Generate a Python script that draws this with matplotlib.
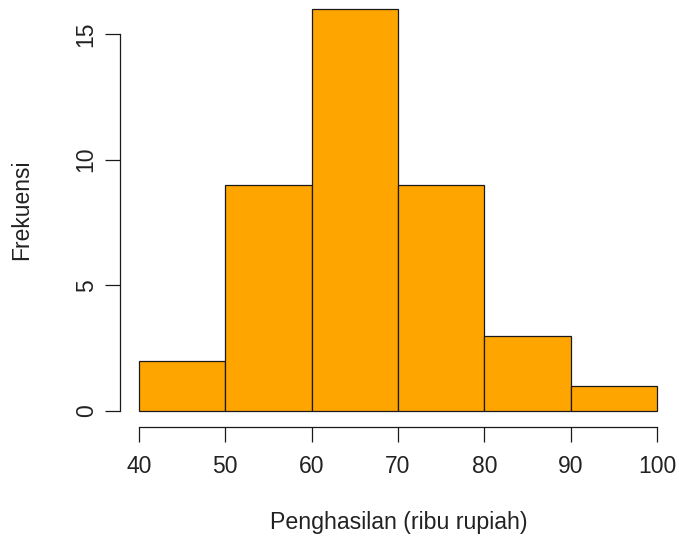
import matplotlib.pyplot as plt
import numpy as np

plt.rcParams['font.family'] = ['Liberation Sans', 'DejaVu Sans']

# histogram of income (thousand rupiah)
bin_edges = [40, 50, 60, 70, 80, 90, 100]
counts = [2, 9, 16, 9, 3, 1]
x_ticks = [40, 50, 60, 70, 80, 90, 100]
y_ticks = [0, 5, 10, 15]

W, H = 679, 541
fig = plt.figure(figsize=(W / 100, H / 100), dpi=100)
ax = fig.add_axes([139 / W, (H - 411) / H, 518 / W, 402.1 / H])

lefts = np.array(bin_edges[:-1])
widths = np.diff(bin_edges)
ax.bar(lefts, counts, width=widths, align='edge', color='#FFA500',
       edgecolor='#1a1a1a', linewidth=0.9, clip_on=False)

ax.set_xlim(40, 100)
ax.set_ylim(0, 16)

for s in ['top', 'right']:
    ax.spines[s].set_visible(False)
ax.spines['left'].set_position(('outward', 13.7))
ax.spines['bottom'].set_position(('outward', 11.5))
ax.spines['left'].set_bounds(0, 15)
ax.spines['bottom'].set_bounds(40, 100)
for s in ['left', 'bottom']:
    ax.spines[s].set_linewidth(0.9)
    ax.spines[s].set_color('#1a1a1a')

ax.set_xticks(x_ticks)
ax.set_yticks(y_ticks)
ax.set_yticklabels([str(v) for v in y_ticks], rotation=90, va='center')
ax.tick_params(axis='both', length=11, width=0.9, color='#1a1a1a',
               labelsize=16.5, labelcolor='#222222')
ax.tick_params(axis='x', pad=9)
ax.tick_params(axis='y', pad=5)

fig.text(399 / W, 1 - 522 / H, 'Penghasilan (ribu rupiah)', ha='center',
         va='center', fontsize=16.7, color='#222222')
fig.text(22 / W, 1 - 210 / H, 'Frekuensi', ha='center', va='center',
         rotation=90, fontsize=16.5, color='#222222')

fig.savefig('out.png', dpi=100)
